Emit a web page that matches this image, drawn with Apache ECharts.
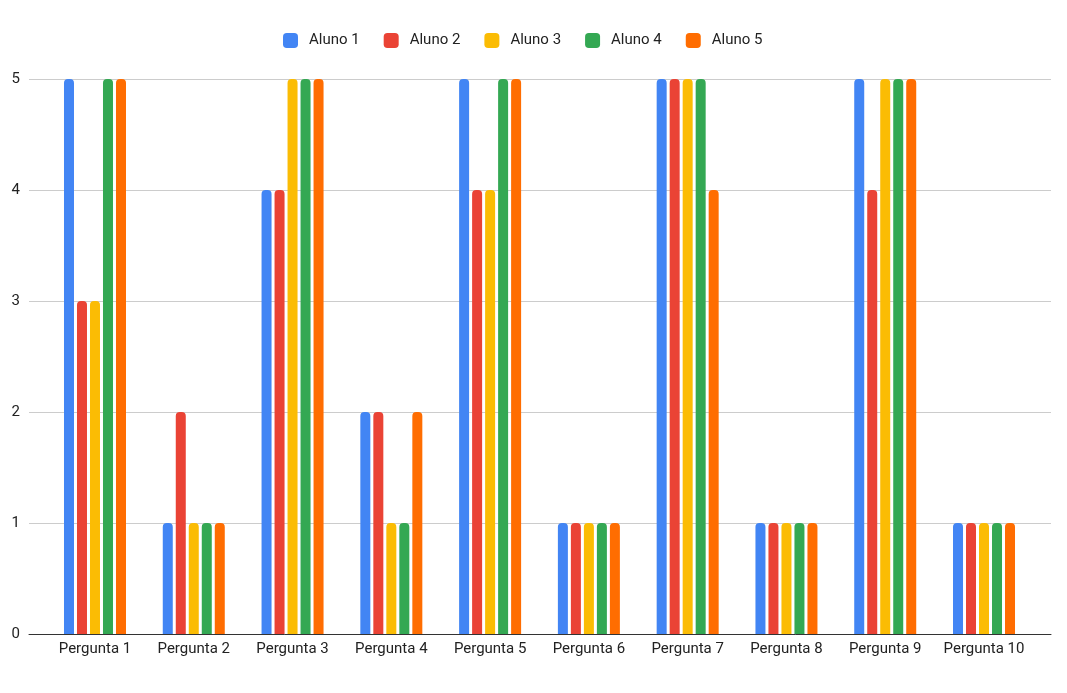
<!DOCTYPE html>
<html>
<head>
<meta charset="utf-8">
<script src="https://cdn.jsdelivr.net/npm/echarts@6/dist/echarts.min.js"></script>
<style>html,body{margin:0;padding:0;background:#fff}#c{width:1067px;height:693px}</style>
</head>
<body>
<div id="c"></div>
<script>
const categories = ['Pergunta 1','Pergunta 2','Pergunta 3','Pergunta 4','Pergunta 5','Pergunta 6','Pergunta 7','Pergunta 8','Pergunta 9','Pergunta 10'];
const seriesNames = ['Aluno 1','Aluno 2','Aluno 3','Aluno 4','Aluno 5'];
const aluno1 = [5,1,4,2,5,1,5,1,5,1];
const aluno2 = [3,2,4,2,4,1,5,1,4,1];
const aluno3 = [3,1,5,1,4,1,5,1,5,1];
const aluno4 = [5,1,5,1,5,1,5,1,5,1];
const aluno5 = [5,1,5,2,5,1,4,1,5,1];
const yTicks = [0,1,2,3,4,5];
const colors = ['#4285F4','#EA4335','#FBBC04','#34A853','#FF6D01'];
const values = [aluno1, aluno2, aluno3, aluno4, aluno5];

const font = 'Roboto, Arial, sans-serif';
const chart = echarts.init(document.getElementById('c'), null, {renderer:'canvas'});
chart.setOption({
  animation: false,
  color: colors,
  textStyle: {fontFamily: font},
  legend: {
    top: 28, left: 278,
    itemWidth: 15, itemHeight: 15, itemGap: 24,
    icon: 'roundRect',
    textStyle: {fontSize: 15, color: '#222', fontFamily: font, padding: [0,0,0,6]},
    data: seriesNames
  },
  grid: [
    {left: 29, right: 16, top: 79, bottom: 59},
    {left: 45.6, right: 33.6, top: 79, bottom: 59}
  ],
  xAxis: [
    {gridIndex: 0, type: 'value', min: 0, max: 1, axisLabel: {show: false}, axisTick: {show: false}, splitLine: {show: false},
     axisLine: {show: true, onZero: false, lineStyle: {color: '#333', width: 1}}},
    {gridIndex: 1, type: 'category', data: categories, axisLine: {show: false}, axisTick: {show: false},
     axisLabel: {fontSize: 15, color: '#222', margin: 8, fontFamily: font, interval: 0}}
  ],
  yAxis: [
    {gridIndex: 0, type: 'value', min: yTicks[0], max: yTicks[yTicks.length-1], interval: 1,
     axisLine: {show: false}, axisTick: {show: false},
     axisLabel: {fontSize: 15, color: '#222', margin: 9, fontFamily: font},
     splitLine: {show: true, lineStyle: {color: '#cccccc', width: 1}}},
    {gridIndex: 1, type: 'value', min: yTicks[0], max: yTicks[yTicks.length-1], interval: 1,
     axisLine: {show: false}, axisTick: {show: false}, axisLabel: {show: false}, splitLine: {show: false}}
  ],
  series: seriesNames.map((n, i) => ({
    name: n, type: 'bar', xAxisIndex: 1, yAxisIndex: 1,
    data: values[i], barWidth: 10, barGap: '30%',
    itemStyle: {color: colors[i], borderRadius: [4,4,0,0]}
  }))
});
</script>
</body>
</html>
